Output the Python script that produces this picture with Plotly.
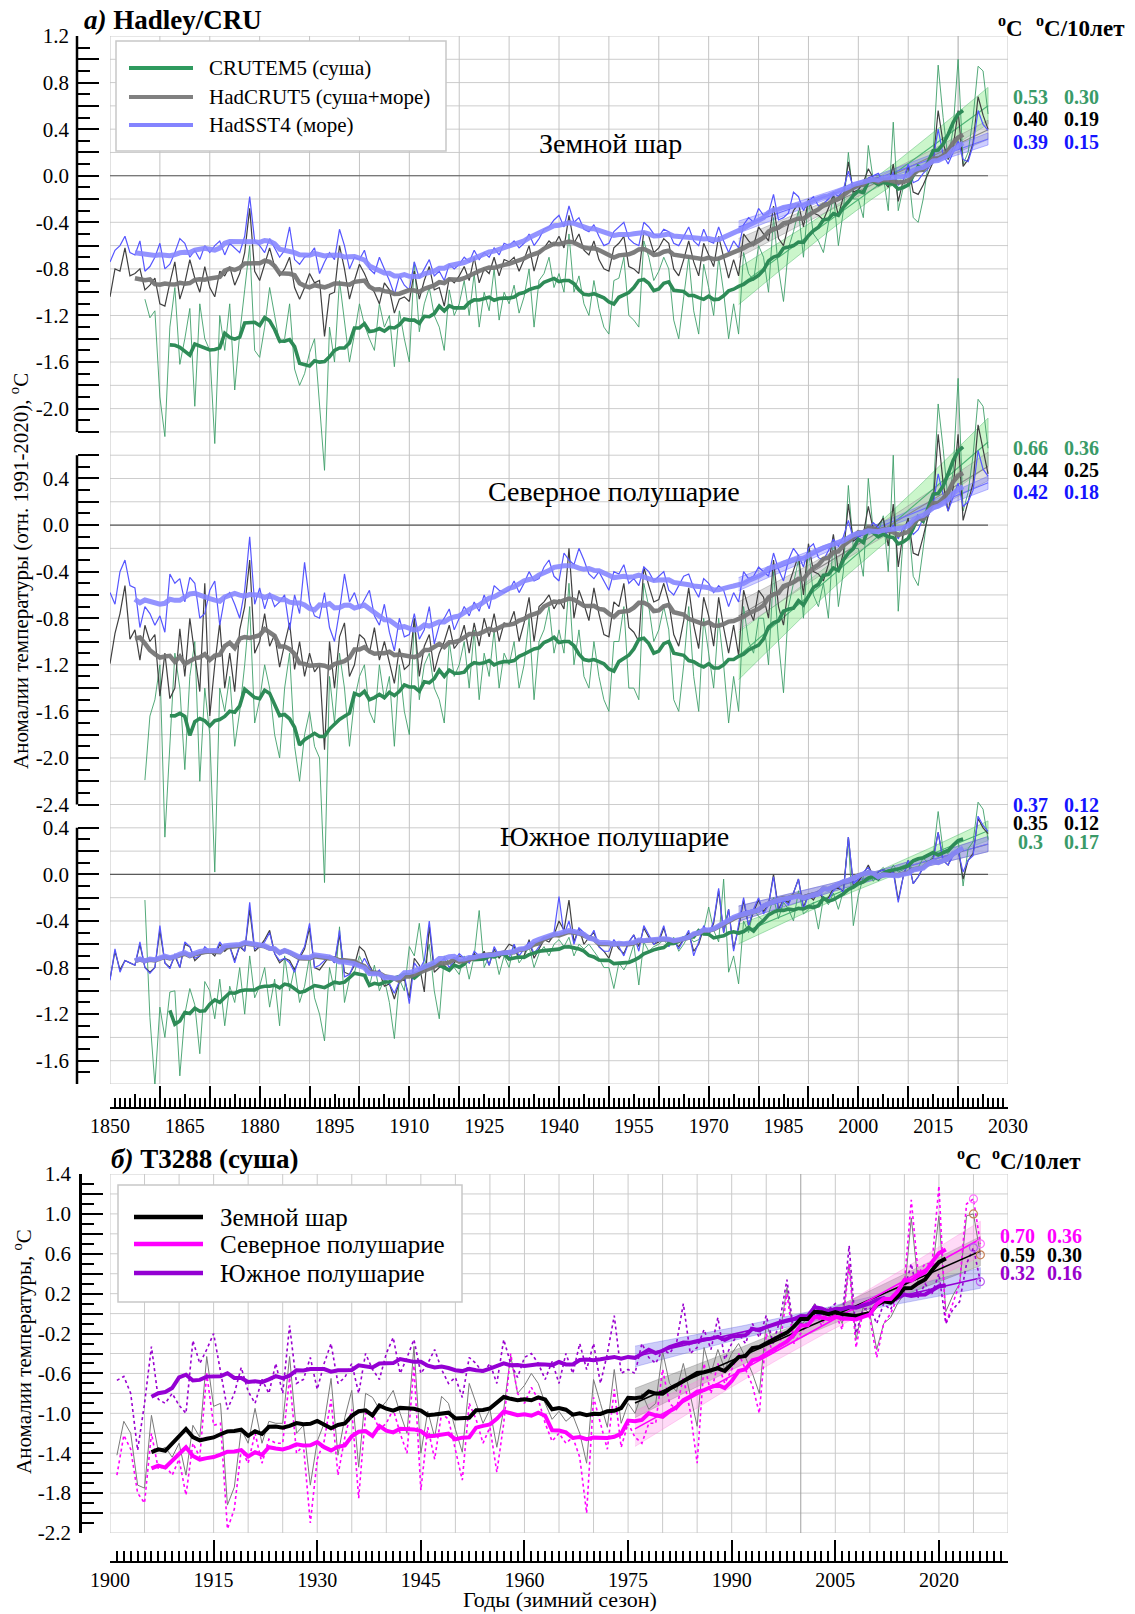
import numpy as np
import plotly.graph_objects as go

W, H = 1135, 1614
FONT = "Liberation Serif"

# ------------------------------------------------------------------
# DATA  panel a (Hadley/CRU), winter anomalies rel. 1991-2020, 1850-2026
# ------------------------------------------------------------------
YEARS_A = list(range(1850, 2027))
NA7 = [None] * 7

glob_sst = [
    -0.74, -0.64, -0.60, -0.52, -0.66, -0.68, -0.56, -0.82, -0.78, -0.70,
    -0.58, -0.80, -0.76, -0.66, -0.54, -0.58, -0.70, -0.64, -0.72, -0.60,
    -0.66, -0.60, -0.56, -0.68, -0.58, -0.62, -0.66, -0.52, -0.18, -0.56,
    -0.60, -0.66, -0.54, -0.62, -0.70, -0.64, -0.44, -0.72, -0.76, -0.70,
    -0.68, -0.62, -0.84, -0.74, -0.66, -0.72, -0.46, -0.60, -0.80, -0.70,
    -0.72, -0.64, -0.80, -0.84, -0.70, -0.80, -0.90, -1.02, -0.86, -0.94,
    -0.98, -0.74, -0.88, -0.80, -0.72, -0.86, -0.82, -0.90, -0.76, -0.80,
    -0.76, -0.70, -0.74, -0.64, -0.72, -0.66, -0.70, -0.62, -0.68, -0.58,
    -0.60, -0.56, -0.62, -0.58, -0.50, -0.60, -0.54, -0.46, -0.44, -0.38,
    -0.34, -0.44, -0.26, -0.40, -0.36, -0.46, -0.48, -0.42, -0.52, -0.60,
    -0.58, -0.48, -0.44, -0.40, -0.54, -0.58, -0.60, -0.40, -0.44, -0.50,
    -0.52, -0.46, -0.48, -0.58, -0.60, -0.52, -0.44, -0.56, -0.60, -0.46,
    -0.56, -0.58, -0.44, -0.56, -0.66, -0.56, -0.62, -0.42, -0.36, -0.40,
    -0.28, -0.34, -0.32, -0.16, -0.38, -0.36, -0.32, -0.14, -0.18, -0.30,
    -0.22, -0.18, -0.26, -0.24, -0.20, -0.14, -0.18, -0.12, 0.04, -0.10,
    -0.08, -0.06, -0.02, 0.00, 0.02, -0.06, -0.02, 0.02, -0.08, -0.04,
    0.10, -0.06, -0.04, 0.02, 0.06, 0.14, 0.40, 0.18, 0.10, 0.20,
    0.30, 0.14, 0.12, 0.26, 0.56, 0.44, 0.39]

glob_hc = [
    -1.04, -0.80, -0.82, -0.62, -0.86, -0.84, -0.80, -0.98, -0.94, -0.88,
    -1.10, -1.12, -0.92, -0.74, -1.06, -0.92, -0.72, -0.88, -1.00, -0.78,
    -0.96, -1.04, -0.82, -0.86, -0.78, -0.94, -0.84, -0.66, -0.28, -0.82,
    -0.90, -0.76, -0.62, -0.78, -0.86, -0.80, -0.70, -0.96, -1.06, -0.96,
    -0.84, -0.92, -0.90, -1.38, -1.02, -1.00, -0.60, -0.80, -1.06, -0.90,
    -0.76, -0.84, -0.94, -1.00, -1.10, -0.92, -0.98, -1.18, -1.06, -1.04,
    -1.08, -0.82, -1.06, -0.90, -0.78, -0.98, -0.96, -1.12, -0.88, -0.92,
    -0.86, -0.78, -0.90, -0.70, -0.92, -0.80, -0.84, -0.70, -0.86, -0.72,
    -0.74, -0.70, -0.82, -0.72, -0.60, -0.82, -0.66, -0.62, -0.56, -0.60,
    -0.52, -0.62, -0.34, -0.58, -0.50, -0.64, -0.68, -0.56, -0.72, -0.80,
    -0.82, -0.62, -0.58, -0.52, -0.78, -0.80, -0.84, -0.48, -0.52, -0.66,
    -0.62, -0.54, -0.58, -0.80, -0.86, -0.72, -0.56, -0.74, -0.86, -0.58,
    -0.68, -0.78, -0.52, -0.70, -0.88, -0.72, -0.86, -0.50, -0.56, -0.60,
    -0.44, -0.50, -0.56, -0.26, -0.54, -0.60, -0.42, -0.30, -0.24, -0.44,
    -0.20, -0.32, -0.34, -0.38, -0.28, -0.16, -0.34, -0.18, 0.12, -0.14,
    -0.12, -0.06, 0.06, -0.02, -0.02, -0.04, -0.10, 0.10, -0.22, -0.04,
    0.08, -0.14, -0.16, -0.08, 0.02, 0.12, 0.56, 0.28, 0.14, 0.24,
    0.56, 0.08, 0.14, 0.28, 0.68, 0.52, 0.40]

glob_cr = NA7 + [
    -1.06, -1.22, -1.16,
    -1.90, -2.24, -1.30, -0.96, -1.62, -1.40, -1.14, -1.98, -1.10, -1.40,
    -1.50, -2.30, -1.20, -1.50, -1.10, -1.84, -1.36, -0.98, -0.60, -1.50,
    -1.56, -1.30, -0.96, -1.20, -1.44, -1.40, -1.10, -1.66, -1.80, -1.70,
    -1.52, -1.40, -1.96, -2.53, -1.30, -1.60, -0.90, -1.24, -1.60, -1.36,
    -1.10, -1.28, -1.40, -1.50, -1.10, -1.30, -1.20, -1.64, -1.16, -1.40,
    -1.60, -0.74, -1.34, -1.10, -0.96, -1.20, -1.30, -1.50, -0.98, -1.20,
    -1.10, -0.90, -1.20, -0.84, -1.30, -1.00, -1.16, -0.80, -1.24, -1.00,
    -1.10, -0.94, -1.18, -1.04, -0.80, -1.30, -0.90, -0.84, -0.70, -0.96,
    -0.84, -1.00, -0.50, -1.00, -0.86, -1.10, -1.20, -0.90, -1.14, -1.30,
    -1.36, -0.90, -0.88, -0.70, -1.20, -1.24, -1.30, -0.56, -0.70, -0.90,
    -0.82, -0.70, -0.80, -1.24, -1.40, -1.04, -0.70, -1.16, -1.36, -0.76,
    -0.96, -1.20, -0.70, -1.00, -1.40, -1.10, -1.36, -0.66, -0.84, -0.90,
    -0.60, -0.70, -1.00, -0.36, -0.80, -1.08, -0.62, -0.48, -0.30, -0.70,
    -0.20, -0.50, -0.56, -0.66, -0.40, -0.16, -0.60, -0.30, 0.20, -0.20,
    -0.20, -0.36, 0.26, -0.04, -0.06, 0.00, -0.30, 0.46, -0.30, -0.10,
    0.04, -0.36, -0.40, -0.20, 0.10, 0.20, 0.95, 0.50, 0.14, 0.40,
    1.00, 0.10, 0.20, 0.50, 0.94, 0.90, 0.53]

nh_sst = [
    -0.58, -0.68, -0.40, -0.30, -0.52, -0.54, -0.88, -0.70, -0.76, -0.86,
    -0.78, -0.92, -0.42, -0.50, -0.46, -0.66, -0.45, -0.50, -0.80, -0.76,
    -0.56, -0.48, -0.86, -0.62, -0.58, -0.68, -0.80, -0.56, -0.10, -0.68,
    -0.54, -0.72, -0.58, -0.70, -0.66, -0.60, -0.90, -0.60, -0.76, -0.32,
    -0.66, -0.78, -0.80, -0.58, -0.88, -1.00, -0.74, -0.42, -0.66, -0.58,
    -0.72, -0.64, -0.56, -0.78, -0.86, -0.68, -0.92, -1.08, -0.80, -0.96,
    -0.94, -0.76, -0.98, -0.90, -0.70, -1.02, -0.86, -0.80, -0.72, -0.90,
    -0.80, -0.70, -0.78, -0.66, -0.74, -0.60, -0.72, -0.52, -0.56, -0.58,
    -0.56, -0.48, -0.58, -0.50, -0.40, -0.48, -0.46, -0.36, -0.30, -0.44,
    -0.48, -0.24, -0.30, -0.34, -0.20, -0.30, -0.42, -0.46, -0.40, -0.48,
    -0.56, -0.40, -0.42, -0.34, -0.50, -0.46, -0.52, -0.36, -0.40, -0.48,
    -0.44, -0.40, -0.56, -0.60, -0.52, -0.44, -0.42, -0.54, -0.62, -0.46,
    -0.50, -0.58, -0.52, -0.56, -0.70, -0.58, -0.66, -0.40, -0.46, -0.44,
    -0.36, -0.40, -0.44, -0.24, -0.38, -0.48, -0.30, -0.20, -0.26, -0.36,
    -0.20, -0.16, -0.28, -0.30, -0.22, -0.12, -0.18, -0.10, 0.04, -0.12,
    -0.10, -0.08, -0.04, 0.02, -0.02, -0.08, -0.06, 0.00, -0.12, -0.02,
    0.02, -0.08, -0.04, 0.06, 0.08, 0.18, 0.44, 0.26, 0.12, 0.24,
    0.36, 0.16, 0.20, 0.30, 0.64, 0.48, 0.42]

nh_hc = [
    -1.19, -0.93, -0.76, -0.52, -0.98, -0.90, -1.16, -0.86, -1.00, -0.94,
    -1.47, -1.10, -1.49, -1.40, -0.89, -1.30, -0.80, -1.10, -1.43, -0.50,
    -1.64, -1.20, -0.84, -1.40, -1.10, -1.43, -0.90, -0.70, -0.30, -1.10,
    -1.00, -0.76, -1.04, -0.94, -1.22, -1.02, -0.84, -1.24, -1.00, -1.30,
    -1.10, -1.26, -1.20, -1.93, -1.00, -1.40, -0.96, -0.84, -1.30, -1.20,
    -0.94, -0.98, -1.10, -0.88, -1.16, -1.00, -1.18, -1.36, -1.06, -1.24,
    -1.20, -0.80, -1.30, -1.04, -0.94, -1.26, -1.10, -1.00, -0.86, -1.06,
    -1.00, -0.86, -1.10, -0.84, -1.04, -0.80, -0.96, -0.76, -1.00, -0.84,
    -0.86, -0.74, -1.00, -0.84, -0.62, -1.00, -0.70, -0.66, -0.60, -0.72,
    -0.64, -0.72, -0.20, -0.80, -0.56, -0.68, -0.82, -0.54, -0.76, -0.94,
    -0.96, -0.66, -0.70, -0.50, -0.88, -0.92, -1.00, -0.36, -0.52, -0.66,
    -0.64, -0.50, -0.66, -0.94, -1.04, -0.82, -0.54, -0.86, -1.06, -0.62,
    -0.78, -1.04, -0.62, -0.88, -1.10, -0.86, -1.12, -0.56, -0.72, -0.82,
    -0.56, -0.62, -0.80, -0.30, -0.70, -0.86, -0.52, -0.38, -0.26, -0.60,
    -0.16, -0.40, -0.42, -0.48, -0.34, -0.08, -0.40, -0.24, 0.18, -0.14,
    -0.10, -0.08, 0.16, -0.04, 0.00, 0.06, -0.18, 0.18, -0.36, -0.06,
    0.06, -0.24, -0.26, -0.10, 0.08, 0.18, 0.78, 0.36, 0.12, 0.32,
    0.78, 0.04, 0.20, 0.36, 0.86, 0.66, 0.44]

nh_cr = NA7 + [
    -2.19, -1.64, -1.50,
    -1.20, -2.68, -1.90, -1.10, -1.40, -2.10, -1.30, -1.00, -2.20, -1.40,
    -1.80, -2.98, -1.40, -1.60, -1.30, -1.90, -1.60, -1.20, -0.70, -1.70,
    -1.50, -1.20, -1.40, -1.80, -2.00, -1.40, -1.10, -1.90, -2.20, -1.80,
    -1.60, -1.90, -2.00, -3.07, -1.30, -1.70, -1.10, -1.40, -1.90, -1.50,
    -1.30, -1.20, -1.60, -1.70, -1.20, -1.50, -1.30, -1.90, -1.20, -1.60,
    -1.80, -0.80, -1.50, -1.20, -1.10, -1.40, -1.50, -1.70, -1.00, -1.30,
    -1.20, -1.00, -1.40, -0.90, -1.50, -1.10, -1.30, -0.90, -1.40, -1.10,
    -1.20, -1.00, -1.40, -1.20, -0.80, -1.50, -1.00, -0.90, -0.70, -1.10,
    -0.90, -1.10, -0.50, -1.20, -0.90, -1.30, -1.40, -1.00, -1.30, -1.50,
    -1.60, -1.00, -1.00, -0.70, -1.40, -1.40, -1.50, -0.50, -0.70, -1.00,
    -0.90, -0.70, -0.90, -1.50, -1.60, -1.20, -0.70, -1.30, -1.60, -0.80,
    -1.10, -1.40, -0.80, -1.20, -1.70, -1.30, -1.60, -0.70, -1.00, -1.10,
    -0.80, -0.80, -1.20, -0.40, -1.00, -1.44, -0.70, -0.50, -0.30, -0.80,
    -0.20, -0.60, -0.70, -0.50, -0.80, -0.10, -0.70, -0.40, 0.34, -0.20,
    -0.20, -0.44, 0.40, -0.06, -0.06, 0.08, -0.40, 0.60, -0.74, -0.10,
    0.06, -0.44, -0.52, -0.20, 0.14, 0.26, 1.04, 0.66, 0.20, 0.46,
    1.26, 0.12, 0.28, 0.60, 1.08, 1.02, 0.66]

sh_sst = [
    -0.91, -0.64, -0.84, -0.74, -0.76, -0.78, -0.58, -0.80, -0.85, -0.80,
    -0.44, -0.76, -0.81, -0.68, -0.80, -0.58, -0.62, -0.72, -0.70, -0.62,
    -0.66, -0.68, -0.58, -0.64, -0.62, -0.76, -0.60, -0.66, -0.24, -0.64,
    -0.62, -0.58, -0.50, -0.68, -0.74, -0.72, -0.76, -0.84, -0.70, -0.62,
    -0.42, -0.80, -0.78, -0.74, -0.70, -0.76, -0.48, -0.88, -0.86, -0.76,
    -0.80, -0.72, -0.80, -0.86, -0.82, -0.90, -0.94, -1.02, -0.92, -0.86,
    -1.11, -0.76, -0.82, -0.74, -0.40, -0.80, -0.76, -0.72, -0.80, -0.74,
    -0.68, -0.72, -0.76, -0.66, -0.70, -0.68, -0.78, -0.62, -0.70, -0.66,
    -0.72, -0.60, -0.70, -0.64, -0.58, -0.68, -0.62, -0.54, -0.56, -0.50,
    -0.19, -0.52, -0.40, -0.60, -0.46, -0.50, -0.56, -0.48, -0.62, -0.66,
    -0.66, -0.56, -0.62, -0.70, -0.58, -0.52, -0.66, -0.44, -0.52, -0.60,
    -0.56, -0.44, -0.62, -0.56, -0.64, -0.56, -0.48, -0.70, -0.58, -0.44,
    -0.52, -0.40, -0.12, -0.50, -0.30, -0.66, -0.42, -0.20, -0.44, -0.30,
    -0.20, -0.34, -0.26, -0.02, -0.32, -0.22, -0.26, -0.16, -0.04, -0.30,
    -0.18, -0.20, -0.14, -0.20, -0.22, -0.14, -0.10, -0.16, 0.32, -0.08,
    -0.04, 0.02, 0.06, -0.02, 0.02, 0.04, 0.00, 0.02, -0.24, -0.02,
    0.12, -0.08, -0.02, 0.06, 0.10, 0.12, 0.36, 0.12, 0.08, 0.16,
    0.20, 0.02, 0.12, 0.16, 0.50, 0.42, 0.37]

sh_hc = [
    -0.90, -0.66, -0.82, -0.74, -0.76, -0.78, -0.60, -0.80, -0.84, -0.80,
    -0.48, -0.76, -0.80, -0.70, -0.80, -0.60, -0.62, -0.74, -0.70, -0.64,
    -0.66, -0.70, -0.60, -0.66, -0.62, -0.74, -0.62, -0.66, -0.30, -0.66,
    -0.62, -0.56, -0.48, -0.68, -0.76, -0.72, -0.74, -0.82, -0.72, -0.64,
    -0.46, -0.80, -0.82, -0.76, -0.70, -0.76, -0.52, -0.84, -0.86, -0.78,
    -0.62, -0.66, -0.78, -0.86, -0.84, -0.96, -0.94, -1.07, -0.92, -0.90,
    -1.06, -0.72, -0.78, -1.01, -0.44, -0.84, -0.80, -0.78, -0.82, -0.76,
    -0.70, -0.72, -0.76, -0.68, -0.72, -0.66, -0.78, -0.64, -0.72, -0.66,
    -0.60, -0.62, -0.72, -0.70, -0.56, -0.72, -0.64, -0.56, -0.58, -0.52,
    -0.40, -0.48, -0.22, -0.58, -0.46, -0.60, -0.54, -0.50, -0.62, -0.66,
    -0.72, -0.58, -0.64, -0.68, -0.58, -0.52, -0.62, -0.46, -0.54, -0.60,
    -0.58, -0.46, -0.60, -0.58, -0.62, -0.56, -0.50, -0.66, -0.60, -0.46,
    -0.52, -0.42, -0.14, -0.50, -0.30, -0.64, -0.46, -0.22, -0.44, -0.32,
    -0.22, -0.32, -0.26, 0.00, -0.30, -0.22, -0.24, -0.16, -0.04, -0.28,
    -0.18, -0.22, -0.14, -0.22, -0.20, -0.12, -0.12, -0.14, 0.32, -0.10,
    -0.06, 0.00, 0.08, -0.02, 0.02, 0.04, 0.00, 0.04, -0.22, -0.02,
    0.12, -0.08, -0.02, 0.06, 0.10, 0.14, 0.36, 0.12, 0.08, 0.18,
    0.22, -0.04, 0.12, 0.18, 0.48, 0.40, 0.35]

sh_cr = NA7 + [
    -0.22, -1.23, -1.81,
    -1.14, -1.40, -1.01, -1.00, -1.73, -1.20, -0.98, -1.12, -1.54, -0.92,
    -1.00, -1.24, -0.90, -1.30, -0.96, -1.10, -0.80, -1.20, -0.70, -1.06,
    -0.96, -0.80, -1.14, -0.90, -1.30, -0.70, -1.00, -0.80, -1.10, -0.96,
    -0.70, -1.06, -1.20, -1.43, -0.80, -1.00, -0.45, -1.10, -0.90, -0.84,
    -0.70, -0.80, -0.96, -0.78, -1.00, -0.90, -1.10, -1.41, -0.90, -1.00,
    -0.62, -0.70, -0.42, -0.80, -0.60, -1.00, -1.24, -0.70, -0.76, -0.80,
    -0.86, -0.70, -0.90, -0.70, -0.31, -0.80, -0.70, -0.66, -0.86, -0.70,
    -0.80, -0.60, -0.76, -0.70, -0.62, -0.80, -0.68, -0.62, -0.70, -0.60,
    -0.56, -0.62, -0.54, -0.70, -0.60, -0.64, -0.60, -0.66, -0.72, -0.80,
    -0.80, -0.98, -0.76, -0.82, -0.74, -0.60, -0.95, -0.58, -0.66, -0.62,
    -0.60, -0.56, -0.62, -0.54, -0.66, -0.60, -0.52, -0.58, -0.56, -0.48,
    -0.28, -0.48, -0.58, -0.04, -0.84, -0.70, -0.94, -0.40, -0.50, -0.30,
    -0.36, -0.40, -0.34, -0.20, -0.38, -0.24, -0.30, -0.40, -0.14, -0.34,
    -0.30, -0.24, -0.47, -0.20, -0.26, -0.16, -0.30, -0.14, 0.30, -0.44,
    -0.18, -0.02, 0.04, -0.06, 0.02, 0.06, 0.00, 0.08, 0.02, 0.04,
    0.12, 0.02, 0.06, 0.14, 0.10, 0.16, 0.54, 0.20, 0.18, 0.24,
    0.30, -0.10, 0.22, 0.28, 0.62, 0.56, 0.30]

# ------------------------------------------------------------------
# DATA  panel b (T3288 land), winter anomalies, 1901-2026
# ------------------------------------------------------------------
YEARS_B = list(range(1901, 2027))

t_glob = [
    -1.42, -1.08, -1.20, -1.72, -1.75, -1.02, -1.38, -1.34, -1.44, -1.30,
    -1.62, -1.12, -1.24, -0.43, -0.93, -0.90, -1.92, -1.74, -1.16, -1.30,
    -0.95, -1.30, -1.08, -1.10, -1.10, -0.43, -1.20, -1.12, -1.72, -1.28,
    -1.10, -0.65, -1.42, -1.04, -0.77, -1.54, -0.80, -0.84, -0.96, -0.88,
    -0.77, -1.00, -1.20, -0.33, -1.40, -0.98, -1.24, -0.83, -0.90, -1.16,
    -1.39, -0.70, -0.90, -1.10, -0.96, -1.34, -0.96, -0.42, -0.80, -0.72,
    -0.60, -0.70, -0.90, -1.06, -0.98, -1.08, -1.02, -1.20, -1.50, -0.66,
    -0.90, -1.14, -0.56, -1.10, -0.90, -1.00, -0.80, -0.96, -0.90, -0.38,
    -0.70, -0.78, -0.50, -0.80, -1.13, -0.34, -0.60, -0.36, -0.56, -0.40,
    -0.30, -0.44, -0.60, -0.80, -0.10, -0.30, -0.20, 0.26, -0.24, -0.12,
    -0.04, 0.10, -0.06, 0.06, 0.04, -0.10, 0.50, -0.26, 0.06, 0.00,
    -0.36, -0.10, -0.04, 0.10, 0.20, 0.96, 0.30, 0.36, 0.40, 0.98,
    0.02, 0.18, 0.30, 0.98, 1.00, 0.59]

t_nh = [
    -1.62, -1.22, -1.36, -1.80, -1.90, -1.20, -1.56, -1.52, -1.62, -1.46,
    -1.82, -1.30, -1.44, -0.60, -1.12, -1.10, -2.16, -1.96, -1.36, -1.50,
    -1.20, -1.50, -1.26, -1.30, -1.30, -0.64, -1.40, -1.32, -2.10, -1.46,
    -1.28, -0.86, -1.62, -1.24, -0.96, -1.85, -1.00, -1.00, -1.16, -1.10,
    -0.96, -1.20, -1.40, -0.52, -1.77, -1.14, -1.46, -1.00, -1.06, -1.36,
    -1.67, -0.90, -1.06, -1.30, -1.14, -1.59, -1.10, -0.40, -0.80, -0.90,
    -0.74, -0.86, -1.10, -1.28, -1.20, -1.30, -1.24, -1.44, -2.00, -0.84,
    -1.10, -1.36, -0.76, -1.34, -1.10, -1.24, -1.30, -1.10, -1.10, -0.56,
    -0.90, -0.96, -0.64, -0.98, -1.50, -0.50, -0.80, -0.50, -0.70, -0.56,
    -0.40, -0.56, -0.72, -1.00, -0.20, -0.40, -0.30, 0.20, -0.30, -0.20,
    -0.10, 0.06, -0.12, 0.04, 0.00, -0.16, 0.50, -0.34, 0.02, -0.04,
    -0.44, -0.10, 0.00, 0.16, 0.30, 1.14, 0.40, 0.50, 0.50, 1.28,
    -0.10, 0.10, 0.30, 1.10, 1.15, 0.70]

t_sh = [
    -0.67, -0.63, -0.80, -1.37, -0.90, -0.33, -0.86, -0.90, -0.80, -0.92,
    -1.00, -0.27, -0.50, -0.36, -0.20, -0.60, -0.96, -0.80, -0.54, -0.78,
    -0.90, -0.66, -0.80, -0.50, -0.80, -0.12, -0.70, -0.66, -0.44, -0.76,
    -0.50, -0.30, -0.70, -0.64, -0.50, -0.80, -0.40, -0.56, -0.66, -0.40,
    -0.24, -0.60, -0.44, -0.26, -0.60, -0.50, -0.36, -0.56, -0.70, -0.64,
    -0.84, -0.44, -0.50, -0.60, -0.50, -0.70, -0.26, -0.50, -0.64, -0.44,
    -0.40, -0.50, -0.66, -0.48, -0.70, -0.40, -0.60, -0.30, -0.56, -0.30,
    -0.70, -0.40, -0.02, -0.60, -0.56, -0.60, -0.30, -0.44, -0.50, -0.36,
    -0.40, -0.30, 0.10, -0.40, -0.34, -0.16, -0.36, -0.04, -0.46, -0.30,
    -0.20, -0.30, -0.10, -0.24, -0.02, -0.30, -0.06, 0.34, -0.20, -0.10,
    -0.10, 0.10, -0.06, 0.04, 0.10, -0.04, 0.68, -0.20, 0.04, 0.06,
    -0.10, 0.10, 0.04, 0.20, 0.24, 0.50, 0.16, 0.30, 0.20, 0.40,
    -0.10, 0.04, 0.12, 0.50, 0.66, 0.32]

# text data
SERIES_A = ["CRUTEM5 (суша)", "HadCRUT5 (суша+море)", "HadSST4 (море)"]
REGIONS_A = ["Земной шар", "Северное полушарие", "Южное полушарие"]
SERIES_B = ["Земной шар", "Северное полушарие", "Южное полушарие"]
TREND_A = [  # (last winter anomaly, trend per decade, series index)
    [("0.53", "0.30", 0), ("0.40", "0.19", 1), ("0.39", "0.15", 2)],
    [("0.66", "0.36", 0), ("0.44", "0.25", 1), ("0.42", "0.18", 2)],
    [("0.37", "0.12", 2), ("0.35", "0.12", 1), ("0.3", "0.17", 0)],
]
TREND_B = [("0.70", "0.36", 1), ("0.59", "0.30", 0), ("0.32", "0.16", 2)]
XLAB_A = [1850, 1865, 1880, 1895, 1910, 1925, 1940, 1955, 1970, 1985, 2000, 2015, 2030]
XLAB_B = [1900, 1915, 1930, 1945, 1960, 1975, 1990, 2005, 2020]

_lens = {k: len(v) for k, v in dict(glob_sst=glob_sst, glob_hc=glob_hc, glob_cr=glob_cr,
         nh_sst=nh_sst, nh_hc=nh_hc, nh_cr=nh_cr, sh_sst=sh_sst, sh_hc=sh_hc,
         sh_cr=sh_cr).items()}
_lb = dict(t_glob=len(t_glob), t_nh=len(t_nh), t_sh=len(t_sh))
if any(v != len(YEARS_A) for v in _lens.values()) or any(v != len(YEARS_B) for v in _lb.values()):
    raise SystemExit("length mismatch: %s %s" % (_lens, _lb))


# ------------------------------------------------------------------
def PX(p):
    return p / W


def PY(p):
    return 1 - p / H


def arr(v):
    return np.array([np.nan if x is None else x for x in v], dtype=float)


def rm11(v):
    a = arr(v)
    out = np.full(a.size, np.nan)
    for i in range(5, a.size - 5):
        w = a[i - 5:i + 6]
        if not np.isnan(w).any():
            out[i] = w.mean()
    return out


def linfit(years, v, start=1976):
    x = np.asarray(years, float)
    y = arr(v)
    m = (x >= start) & ~np.isnan(y)
    xs, ys = x[m], y[m]
    k, b = np.polyfit(xs, ys, 1)
    fit = k * xs + b
    n = xs.size
    s = np.sqrt(((ys - fit) ** 2).sum() / (n - 2))
    dx = xs - xs.mean()
    se = s * np.sqrt(1.0 / n + dx ** 2 / (dx ** 2).sum())
    return xs, fit, fit - 2.0 * se, fit + 2.0 * se


fig = go.Figure()

# ---- styles panel a: CRUTEM5, HadCRUT5, HadSST4
THIN_A = [dict(color="#3f9f6a", width=0.9), dict(color="#404040", width=1.2), dict(color="#5656ff", width=1.2)]
THICK_A = [dict(color="#2e8b57", width=3.6), dict(color="rgba(118,118,118,0.95)", width=4.5),
           dict(color="rgba(135,135,255,0.9)", width=5)]
LEG_A = ["#2e9a5e", "#808080", "#8484ff"]
TREND_LINE_A = ["#4cb474", "#8a8a8a", "#6e6eff"]
BAND_A = ["rgba(140,235,140,0.45)", "rgba(185,185,185,0.45)", "rgba(105,105,255,0.33)"]
BEDGE_A = ["rgba(70,180,100,0.55)", "rgba(130,130,130,0.5)", "rgba(90,90,255,0.5)"]
TXT_A = ["#3a9a68", "#000000", "#1414ff"]

REG_DATA = [(0.0, [glob_cr, glob_hc, glob_sst]), (-3.0, [nh_cr, nh_hc, nh_sst]), (-6.0, [sh_cr, sh_hc, sh_sst])]

common = dict(mode="lines", hoverinfo="skip", showlegend=False)

for off, series in REG_DATA:
    for i, s in enumerate(series):
        xs, fit, lo, hi = linfit(YEARS_A, s)
        fig.add_trace(go.Scatter(x=np.concatenate([xs, xs[::-1]]), y=np.concatenate([hi, lo[::-1]]) + off,
                                 fill="toself", fillcolor=BAND_A[i], line=dict(color=BEDGE_A[i], width=0.8),
                                 xaxis="x", yaxis="y", **common))
for off, series in REG_DATA:
    for i, s in enumerate(series):
        xs, fit, lo, hi = linfit(YEARS_A, s)
        fig.add_trace(go.Scatter(x=xs, y=fit + off, line=dict(color=TREND_LINE_A[i], width=1.1),
                                 xaxis="x", yaxis="y", **common))
for off, series in REG_DATA:
    for i, s in enumerate(series):
        fig.add_trace(go.Scatter(x=YEARS_A, y=arr(s) + off, line=THIN_A[i], connectgaps=False,
                                 xaxis="x", yaxis="y", **common))
for off, series in REG_DATA:
    for i, s in enumerate(series):
        fig.add_trace(go.Scatter(x=YEARS_A, y=rm11(s) + off, line=THICK_A[i],
                                 xaxis="x", yaxis="y", **common))
# dummy trace for the overlay tick axis
fig.add_trace(go.Scatter(x=[None], y=[None], xaxis="x3", yaxis="y", **common))

# ---- panel b
B_DATA = [t_glob, t_nh, t_sh]
THIN_B = [dict(color="#7a7a7a", width=1.0), dict(color="#ff00ff", width=1.6, dash="dot"),
          dict(color="#9a00d0", width=1.6, dash="dot")]
THICK_B = [dict(color="#000000", width=4), dict(color="#ff00ff", width=4), dict(color="#9400d3", width=4)]
TREND_LINE_B = ["#000000", "#ff00ff", "#9400d3"]
BAND_B = ["rgba(110,110,110,0.35)", "rgba(255,140,230,0.32)", "rgba(100,100,235,0.32)"]
BEDGE_B = ["rgba(90,90,90,0.35)", "rgba(255,120,220,0.4)", "rgba(90,90,230,0.4)"]
CIRC_B = ["#c8825a", "#ff70ff", "#b860f0"]
TXT_B = ["#000000", "#ff00ff", "#9900cc"]

for i in (2, 0, 1):
    xs, fit, lo, hi = linfit(YEARS_B, B_DATA[i])
    fig.add_trace(go.Scatter(x=np.concatenate([xs, xs[::-1]]), y=np.concatenate([hi, lo[::-1]]),
                             fill="toself", fillcolor=BAND_B[i], line=dict(color=BEDGE_B[i], width=0.8),
                             xaxis="x2", yaxis="y2", **common))
for i in range(3):
    fig.add_trace(go.Scatter(x=YEARS_B, y=B_DATA[i], line=THIN_B[i], xaxis="x2", yaxis="y2", **common))
for i in (2, 0, 1):
    xs, fit, lo, hi = linfit(YEARS_B, B_DATA[i])
    fig.add_trace(go.Scatter(x=xs, y=fit, line=dict(color=TREND_LINE_B[i], width=1.6),
                             xaxis="x2", yaxis="y2", **common))
for i in (2, 0, 1):
    fig.add_trace(go.Scatter(x=YEARS_B, y=rm11(B_DATA[i]), line=THICK_B[i], xaxis="x2", yaxis="y2", **common))
for i in range(3):
    fig.add_trace(go.Scatter(x=YEARS_B[-2:], y=B_DATA[i][-2:], mode="markers",
                             marker=dict(symbol="circle-open", size=8, color=CIRC_B[i], line=dict(width=1.2)),
                             hoverinfo="skip", showlegend=False, xaxis="x2", yaxis="y2"))

# ------------------------------------------------------------------
shapes = []
GRID = "#cdcdcd"
for k in range(46):
    v = round(1.2 - 0.2 * k, 2)
    shapes.append(dict(type="line", xref="x", yref="y", x0=1850, x1=2030, y0=v, y1=v,
                       line=dict(color=GRID, width=1), layer="below"))
for yv in range(1850, 2031, 10):
    shapes.append(dict(type="line", xref="x", yref="y", x0=yv, x1=yv, y0=-7.8, y1=1.2,
                       line=dict(color="#a8a8a8" if yv == 2020 else "#c4c4c4", width=1), layer="below"))
for off, _ in REG_DATA:
    shapes.append(dict(type="line", xref="x", yref="y", x0=1850, x1=2026, y0=off, y1=off,
                       line=dict(color="#5a5a5a", width=1.2), layer="below"))
for k in range(19):
    v = round(1.4 - 0.2 * k, 2)
    shapes.append(dict(type="line", xref="x2", yref="y2", x0=1900, x1=2030, y0=v, y1=v,
                       line=dict(color=GRID, width=1), layer="below"))
for yv in range(1900, 2031, 5):
    shapes.append(dict(type="line", xref="x2", yref="y2", x0=yv, x1=yv, y0=-2.2, y1=1.4,
                       line=dict(color="#a0a0a0" if yv == 2000 else "#cacaca", width=1), layer="below"))
for top, bot in [(1.2, -2.2), (-2.4, -5.4), (-5.6, -7.8)]:
    shapes.append(dict(type="line", xref="paper", yref="y", x0=PX(77), x1=PX(77), y0=top, y1=bot,
                       line=dict(color="black", width=2.5)))

shapes.append(dict(type="rect", xref="paper", yref="paper", x0=PX(116), x1=PX(446), y0=PY(41), y1=PY(151),
                   fillcolor="white", line=dict(color="#c8c8c8", width=1.5)))
shapes.append(dict(type="rect", xref="paper", yref="paper", x0=PX(118), x1=PX(462), y0=PY(1185), y1=PY(1302),
                   fillcolor="white", line=dict(color="#c8c8c8", width=1.5)))
LEG_A_Y = [68, 97, 125]
LEG_B_Y = [1217, 1244, 1273]
for i in range(3):
    shapes.append(dict(type="line", xref="paper", yref="paper", x0=PX(129), x1=PX(193), y0=PY(LEG_A_Y[i]),
                       y1=PY(LEG_A_Y[i]), line=dict(color=LEG_A[i], width=4)))
    shapes.append(dict(type="line", xref="paper", yref="paper", x0=PX(134), x1=PX(203), y0=PY(LEG_B_Y[i]),
                       y1=PY(LEG_B_Y[i]), line=dict(color=THICK_B[i]["color"], width=4.5)))

ann = []


def text(x, y, s, size, color="black", xa="left", ya="middle", angle=0):
    ann.append(dict(x=PX(x), y=PY(y), xref="paper", yref="paper", text=s, showarrow=False,
                    xanchor=xa, yanchor=ya, textangle=angle,
                    font=dict(family=FONT, size=size, color=color)))


for i in range(3):
    text(207, LEG_A_Y[i], SERIES_A[i], 21)
    text(218, LEG_B_Y[i], SERIES_B[i], 25)

text(82, 20, "<b><i>а)</i> Hadley/CRU</b>", 27)
text(109, 1159, "<b><i>б)</i> T3288 (суша)</b>", 27)
text(996, 27, "<b><sup>o</sup>C</b>", 23)
text(1034, 27, "<b><sup>o</sup>C/10лет</b>", 23)
text(955, 1159, "<b><sup>o</sup>C</b>", 23)
text(990, 1159, "<b><sup>o</sup>C/10лет</b>", 23)

REG_LABEL_POS = [(610, 144), (614, 492), (614, 837)]
for (x, y), s in zip(REG_LABEL_POS, REGIONS_A):
    text(x, y, s, 28, xa="center")

TREND_A_Y = [[97, 119, 142], [448, 470, 492], [805, 823, 842]]
for r in range(3):
    for j, (v1, v2, si) in enumerate(TREND_A[r]):
        text(1030, TREND_A_Y[r][j], "<b>%s</b>" % v1, 20, TXT_A[si], xa="center")
        text(1081, TREND_A_Y[r][j], "<b>%s</b>" % v2, 20, TXT_A[si], xa="center")
TREND_B_Y = [1236, 1255, 1273]
for j, (v1, v2, si) in enumerate(TREND_B):
    text(1017, TREND_B_Y[j], "<b>%s</b>" % v1, 20, TXT_B[si], xa="center")
    text(1064, TREND_B_Y[j], "<b>%s</b>" % v2, 20, TXT_B[si], xa="center")

text(19, 571, "Аномалии температуры (отн. 1991-2020), <sup>o</sup>C", 21, xa="center", angle=-90)
text(22, 1352, "Аномалии температуры, <sup>o</sup>C", 21, xa="center", angle=-90)
text(560, 1599, "Годы (зимний сезон)", 22, xa="center")


# ------------------------------------------------------------------
def yticks(segments, ref):
    major, labels, minor = [], [], []
    for top, bot, off in segments:
        n = int(round((top - bot) / 0.2))
        for k in range(n + 1):
            v = round(top - 0.2 * k, 1) + 0.0
            major.append(round(v + off, 2))
            q = (v - ref) / 0.4
            labels.append(("%.1f" % v) if abs(q - round(q)) < 1e-6 else "")
        for k in range(n):
            minor.append(round(top - 0.1 - 0.2 * k + off, 2))
    return major, labels, minor


ya_maj, ya_lab, ya_min = yticks([(1.2, -2.2, 0.0), (0.6, -2.4, -3.0), (0.4, -1.8, -6.0)], 0.0)
yb_maj, yb_lab, yb_min = yticks([(1.4, -2.2, 0.0)], 1.4)

xtickfont = dict(family=FONT, size=20, color="black")
ytickfont = dict(family=FONT, size=21, color="black")
XDOM = [PX(110), PX(1008)]

fig.update_layout(
    width=W, height=H, margin=dict(l=0, r=0, t=0, b=0, pad=0, autoexpand=False),
    paper_bgcolor="white", plot_bgcolor="white", showlegend=False,
    font=dict(family=FONT, size=20, color="black"),
    shapes=shapes, annotations=ann,
    xaxis=dict(domain=XDOM, range=[1850, 2030], anchor="free", position=PY(1108), automargin=False,
               tickmode="array", tickvals=list(range(1850, 2031, 10)), showticklabels=False,
               ticks="inside", ticklen=21, tickwidth=1.5, tickcolor="black",
               showline=True, linecolor="black", linewidth=2, showgrid=False, zeroline=False,
               minor=dict(tickmode="array", tickvals=list(range(1850, 2031)), ticks="inside",
                          ticklen=9, tickwidth=1.5, tickcolor="black", showgrid=False)),
    xaxis3=dict(overlaying="x", range=[1850, 2030], anchor="free", position=PY(1108), automargin=False,
                tickmode="array", tickvals=list(range(1850, 2031, 5)),
                ticktext=[str(v) if v in XLAB_A else "" for v in range(1850, 2031, 5)],
                ticks="inside", ticklen=14, tickwidth=1.5, tickcolor="black", tickfont=xtickfont,
                ticklabelstandoff=4, showline=False, showgrid=False, zeroline=False),
    yaxis=dict(domain=[PY(1084), PY(36)], range=[-7.8, 1.2], anchor="free", position=PX(77), side="left",
               automargin=False,
               tickmode="array", tickvals=ya_maj, ticktext=ya_lab, ticks="inside", ticklen=21,
               tickwidth=2, tickcolor="black", tickfont=ytickfont, ticklabelstandoff=8,
               showline=False, showgrid=False, zeroline=False,
               minor=dict(tickmode="array", tickvals=ya_min, ticks="inside", ticklen=12,
                          tickwidth=2, tickcolor="black", showgrid=False)),
    xaxis2=dict(domain=XDOM, range=[1900, 2030], anchor="free", position=PY(1562), automargin=False,
                tickmode="array", tickvals=list(range(1900, 2031, 5)),
                ticktext=[str(v) if v in XLAB_B else "" for v in range(1900, 2031, 5)],
                ticks="inside", ticklen=21, tickwidth=1.5, tickcolor="black", tickfont=xtickfont,
                ticklabelstandoff=0, showline=True, linecolor="black", linewidth=2,
                showgrid=False, zeroline=False,
                minor=dict(tickmode="array", tickvals=list(range(1900, 2031)), ticks="inside",
                           ticklen=10, tickwidth=1.5, tickcolor="black", showgrid=False)),
    yaxis2=dict(domain=[PY(1533), PY(1174)], range=[-2.2, 1.4], anchor="free", position=PX(80), side="left",
                automargin=False,
                tickmode="array", tickvals=yb_maj, ticktext=yb_lab, ticks="inside", ticklen=21,
                tickwidth=2, tickcolor="black", tickfont=ytickfont, ticklabelstandoff=4,
                showline=True, linecolor="black", linewidth=2.5, showgrid=False, zeroline=False,
                minor=dict(tickmode="array", tickvals=yb_min, ticks="inside", ticklen=12,
                           tickwidth=2, tickcolor="black", showgrid=False)),
)

fig.write_html("out.html")
